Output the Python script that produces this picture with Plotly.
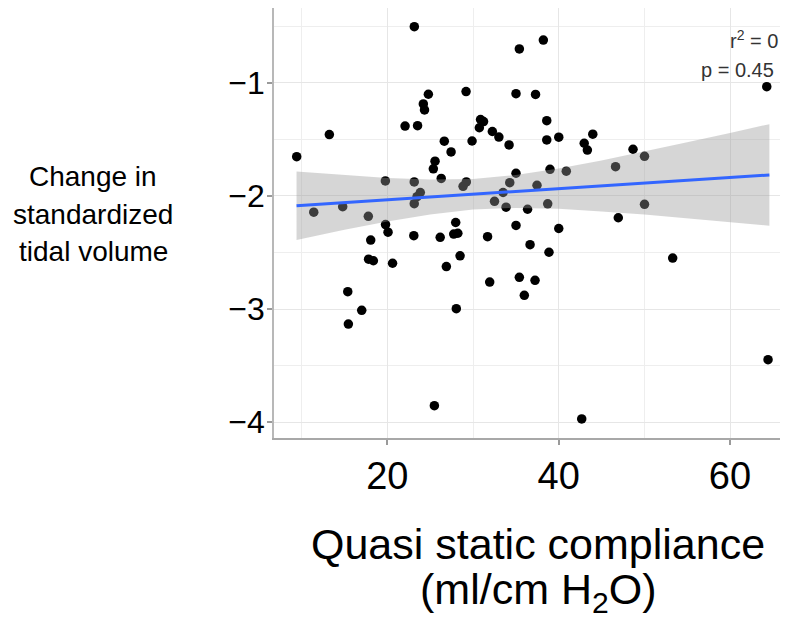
import plotly.graph_objects as go

# ---- data ----
x_compliance = [23.15, 38.21, 35.41, 64.29, 24.79, 24.20, 24.34, 29.19, 35.02, 37.30,
                22.07, 23.53, 13.23, 30.88, 31.23, 30.74, 38.61, 32.26, 33.02, 34.21,
                26.65, 27.44, 29.89, 38.61, 40.01, 43.98, 42.98, 43.35, 9.42, 48.68,
                50.02, 25.57, 25.37, 26.29, 19.77, 23.14, 46.64, 40.89, 38.99, 35.02,
                28.84, 29.22, 34.29, 37.47, 33.51, 23.85, 23.47, 23.14, 11.41, 14.79,
                17.78, 32.51, 33.86, 36.37, 38.72, 50.02, 46.96, 19.79, 20.08, 27.98,
                27.75, 28.23, 35.02, 40.01, 18.06, 23.09, 26.17, 31.70, 36.66, 38.87,
                53.31, 17.81, 18.37, 20.61, 26.89, 28.49, 31.95, 35.41, 37.24, 35.99,
                15.38, 17.01, 15.45, 28.05, 64.44, 25.49, 42.69]
y_change = [-0.505, -0.623, -0.702, -1.035, -1.102, -1.188, -1.241, -1.078, -1.097, -1.104,
            -1.383, -1.380, -1.458, -1.325, -1.343, -1.398, -1.336, -1.431, -1.480, -1.550,
            -1.517, -1.612, -1.515, -1.506, -1.481, -1.455, -1.535, -1.595, -1.654, -1.588,
            -1.650, -1.693, -1.761, -1.846, -1.868, -1.877, -1.742, -1.782, -1.765, -1.800,
            -1.915, -1.877, -1.883, -1.906, -1.970, -1.970, -2.007, -2.069, -2.144, -2.095,
            -2.180, -2.048, -2.100, -2.118, -2.070, -2.074, -2.193, -2.253, -2.321, -2.235,
            -2.337, -2.330, -2.261, -2.288, -2.390, -2.352, -2.366, -2.360, -2.431, -2.498,
            -2.549, -2.559, -2.573, -2.595, -2.624, -2.529, -2.761, -2.719, -2.746, -2.878,
            -2.846, -3.011, -3.132, -2.996, -3.447, -3.853, -3.971]

fit_x = [9.4, 64.6]
fit_y = [-2.087, -1.815]

band_x = [9.4, 15, 20, 25, 30, 35, 40, 45, 50, 55, 60, 64.6]
band_upper = [-1.784, -1.818, -1.843, -1.856, -1.850, -1.816, -1.758, -1.687, -1.609, -1.527, -1.444, -1.366]
band_lower = [-2.390, -2.300, -2.227, -2.164, -2.120, -2.106, -2.114, -2.137, -2.165, -2.197, -2.232, -2.264]

x_ticks = [20, 40, 60]
x_tick_labels = ["20", "40", "60"]
y_ticks = [-1, -2, -3, -4]
y_tick_labels = ["\u22121", "\u22122", "\u22123", "\u22124"]

stats_lines = ["r<sup>2</sup> = 0", "p = 0.45"]
y_title_lines = ["Change in", "standardized", "tidal volume"]
x_title_lines = ["Quasi static compliance", "(ml/cm H<sub>2</sub>O)"]

FONT = "Liberation Sans, Arial, Helvetica, sans-serif"
NARROW = "Liberation Sans Narrow, Arial Narrow, Liberation Sans, sans-serif"

fig = go.Figure()

fig.add_trace(go.Scatter(
    x=x_compliance, y=y_change, mode="markers",
    marker=dict(color="black", size=9.5, line=dict(width=0)),
    hoverinfo="skip", showlegend=False))

fig.add_trace(go.Scatter(
    x=band_x + band_x[::-1], y=band_upper + band_lower[::-1],
    fill="toself", fillcolor="rgba(153,153,153,0.4)",
    line=dict(width=0), mode="lines", hoverinfo="skip", showlegend=False))

fig.add_trace(go.Scatter(
    x=fit_x, y=fit_y, mode="lines",
    line=dict(color="#3366FF", width=3), hoverinfo="skip", showlegend=False))

# stats text
fig.add_annotation(x=65.84, y=-0.617, xref="x", yref="y", text=stats_lines[0],
                   showarrow=False, xanchor="right", yanchor="middle",
                   font=dict(family=FONT, size=20, color="#333333"))
fig.add_annotation(x=65.36, y=-0.888, xref="x", yref="y", text=stats_lines[1],
                   showarrow=False, xanchor="right", yanchor="middle",
                   font=dict(family=FONT, size=20, color="#333333"))

# figure sits inside the page body (8px default margin)
OFF = 8
W, H = 780, 613
L, R, T, B = 266, 0, 0, 183
pw, ph = W - L - R, H - T - B

def px_x(page_x):
    return (page_x - OFF - L) / pw

def px_y(page_y):
    return (H - B - (page_y - OFF)) / ph

for txt, cy in zip(y_title_lines, [176, 214, 251]):
    fig.add_annotation(x=px_x(93), y=px_y(cy), xref="paper", yref="paper", text=txt,
                       showarrow=False, xanchor="center", yanchor="middle",
                       font=dict(family=NARROW, size=28, color="black"))

for txt, cy in zip(x_title_lines, [544, 592]):
    fig.add_annotation(x=px_x(538), y=px_y(cy), xref="paper", yref="paper", text=txt,
                       showarrow=False, xanchor="center", yanchor="middle",
                       font=dict(family=FONT, size=43, color="black"))

fig.update_layout(
    width=W, height=H,
    margin=dict(l=L, r=R, t=T, b=B, pad=0, autoexpand=False),
    paper_bgcolor="white", plot_bgcolor="white",
    showlegend=False,
    xaxis=dict(
        range=[6.77, 66.77], tickvals=x_ticks, ticktext=x_tick_labels,
        showgrid=True, gridcolor="#e6e6e6", gridwidth=1.3,
        minor=dict(tickvals=[10, 30, 50], showgrid=True, gridcolor="#eeeeee", gridwidth=1.2, ticklen=0),
        showline=True, linecolor="#a8a8a8", linewidth=2, mirror=True,
        ticks="outside", ticklen=5, tickwidth=1.5, tickcolor="#9a9a9a",
        tickfont=dict(family=FONT, size=38, color="black"),
        ticklabelstandoff=-2, zeroline=False, fixedrange=True, automargin=False),
    yaxis=dict(
        range=[-4.139, -0.340], tickvals=y_ticks, ticktext=y_tick_labels,
        showgrid=True, gridcolor="#e6e6e6", gridwidth=1.3,
        minor=dict(tickvals=[-0.5, -1.5, -2.5, -3.5], showgrid=True, gridcolor="#eeeeee", gridwidth=1.2, ticklen=0),
        showline=True, linecolor="#b8b8b8", linewidth=1.5,
        ticks="outside", ticklen=5, tickwidth=1.5, tickcolor="#9a9a9a",
        tickfont=dict(family=FONT, size=32, color="black"),
        ticklabelstandoff=-4, zeroline=False, fixedrange=True, automargin=False),
)

fig.write_html("out.html")
